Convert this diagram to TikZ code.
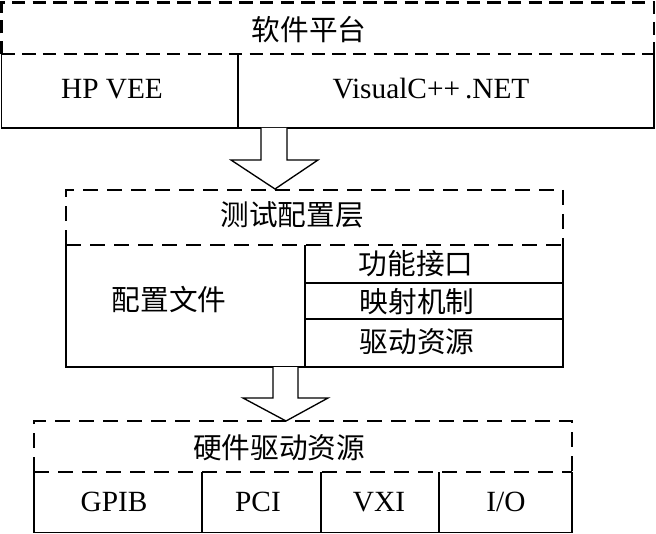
\documentclass[tikz,border=0pt]{standalone}
\usepackage{fontspec}
\usetikzlibrary{calc}
\setmainfont{Liberation Serif}
\newfontfamily\cjk{Noto Sans CJK SC}
\begin{document}
\begin{tikzpicture}[x=0.75pt,y=-0.75pt,
  solidline/.style={line width=1pt,black},
  dashline/.style={line width=1pt,black,dash pattern=on 11pt off 7pt},
  topdash/.style={line width=1.6pt,black,dash pattern=on 10pt off 5.5pt},
  zh/.style={font=\cjk\fontsize{21.5pt}{24pt}\selectfont,inner sep=0pt},
  lat/.style={font=\fontsize{22pt}{24pt}\selectfont,inner sep=0pt},
  blockarrow/.style={line width=1pt,black,fill=white,line join=miter}]
\useasboundingbox (0,0) rectangle (656,534);
% ---------- top box ----------
\coordinate (tA) at (1.5,2.5);
\coordinate (tB) at (654,2.5);
\coordinate (tC) at (1.5,54);
\coordinate (tD) at (654,54);
\coordinate (tE) at (1.5,128);
\coordinate (tF) at (654,128);
\draw[topdash] (tC) -- (tA) -- (tB) -- (tD);
\draw[topdash] (tC) -- (tD);
\draw[solidline] (tC) -- (tE) -- (tF) -- (tD);
\draw[solidline] (238,54) -- (238,128);
\node[zh] (soft) at (309,30) {软件平台};
\node[lat] (hpvee) at (112,89) {HP VEE};
\node[lat] (vc) at (431,89) {VisualC++\,.NET};
% ---------- arrow 1 ----------
\coordinate (a1) at (274,128);
\draw[blockarrow] ($(a1)+(-13,0)$) -- ++(0,32) -- ++(-30,0) -- (275,189) -- (318,160) -- ++(-31,0) -- ($(a1)+(13,0)$);
% ---------- middle box ----------
\coordinate (mA) at (66,190);
\coordinate (mB) at (563,190);
\coordinate (mC) at (66,245);
\coordinate (mD) at (563,245);
\coordinate (mE) at (66,367);
\coordinate (mF) at (563,367);
\draw[dashline] (mC) -- (mA) -- (mB) -- (mD);
\draw[dashline] (mC) -- (mD);
\draw[solidline] (mC) -- (mE) -- (mF) -- (mD);
\draw[solidline] (305,245) -- (305,367);
\draw[solidline] (305,283) -- (563,283);
\draw[solidline] (305,319) -- (563,319);
\node[zh] (cfglayer) at (292,215) {测试配置层};
\node[zh] (cfgfile) at (169,300) {配置文件};
\node[zh] (func) at (416,264) {功能接口};
\node[zh] (map) at (417,302) {映射机制};
\node[zh] (drv) at (417,342) {驱动资源};
% ---------- arrow 2 ----------
\draw[blockarrow] (273,367) -- (273,398) -- (243,398) -- (286,421) -- (328,398) -- (298,398) -- (298,367);
% ---------- bottom box ----------
\coordinate (bA) at (34,421);
\coordinate (bB) at (572,421);
\coordinate (bC) at (34,472);
\coordinate (bD) at (572,472);
\coordinate (bE) at (34,532.5);
\coordinate (bF) at (572,532.5);
\draw[dashline] (bC) -- (bA) -- (bB) -- (bD);
\draw[dashline] (bC) -- (bD);
\draw[solidline] (bC) -- (bE) -- (bF) -- (bD);
\draw[solidline] (202,472) -- (202,532.5);
\draw[solidline] (321,472) -- (321,532.5);
\draw[solidline] (439,472) -- (439,532.5);
\node[zh] (hw) at (279,448) {硬件驱动资源};
\node[lat] (gpib) at (114,502) {GPIB};
\node[lat] (pci) at (258,502) {PCI};
\node[lat] (vxi) at (379,502) {VXI};
\node[lat] (io) at (506,502) {I/O};
\end{tikzpicture}
\end{document}
